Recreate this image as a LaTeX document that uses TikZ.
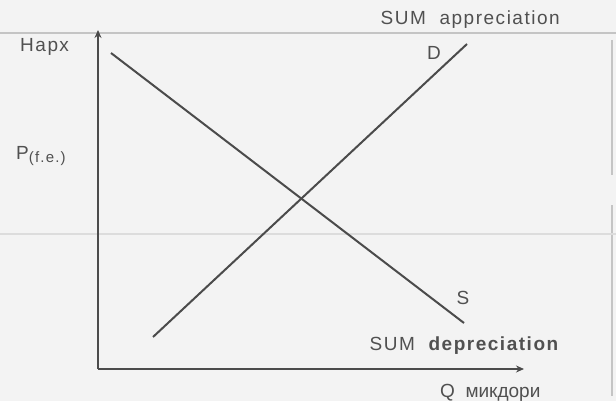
\documentclass[tikz,border=0pt]{standalone}
\usepackage{fontspec}
\setmainfont{Liberation Sans}[LetterSpace=8]
\newfontfamily\plainsans{Liberation Sans}
\usetikzlibrary{arrows.meta}
\definecolor{ink}{RGB}{75,75,75}
\definecolor{txt}{RGB}{80,80,80}
\definecolor{paper}{RGB}{243,243,243}
\definecolor{scan}{RGB}{196,196,196}
\begin{document}
\begin{tikzpicture}[x=1pt,y=-1pt,
  lbl/.style={text=txt, font=\fontsize{19}{21}\selectfont, inner sep=0pt},
  axisline/.style={draw=ink, line width=2.8pt, -{Stealth[length=8pt,width=7pt]}},
  curve/.style={draw=ink, line width=2pt},
  artifact/.style={draw=scan, line width=1.2pt}]
\fill[paper] (0,0) rectangle (616,401);
\useasboundingbox (0,0) rectangle (616,401);
% scan artefacts
\draw[artifact] (0,33) -- (616,33);
\draw[artifact, line width=1.6pt] (612,40) -- (612,175);
\draw[artifact, line width=1.6pt] (612,205) -- (612,396);
\draw[artifact, draw=scan!60] (0,234) -- (616,234);
% axes
\coordinate (o) at (98,369);
\coordinate (ytop) at (98,30);
\coordinate (xend) at (524,369);
\draw[axisline] (o) -- (ytop);
\draw[axisline] (o) -- (xend);
% curves
\coordinate (s1) at (111,53);
\coordinate (s2) at (464,323);
\coordinate (d1) at (153,337);
\coordinate (d2) at (467,44);
\draw[curve] (s1) -- (s2);
\draw[curve] (d1) -- (d2);
% labels
\node[lbl, anchor=base east] (appr) at (560,25) {SUM\ \ appreciation};
\node[lbl, anchor=base east] (depr) at (560,350) {SUM\ \ \textbf{depreciation}};
\node[lbl, anchor=base west] (narx) at (20,52) {Нарх};
\node[lbl, anchor=base west] (pfe) at (16,160) {P\raisebox{-3pt}{\fontsize{15}{16}\selectfont(f.e.)}};
\node[lbl] (dl) at (434,53) {D};
\node[lbl] (sl) at (463,298) {S};
\node[lbl, font=\plainsans\fontsize{19}{21}\selectfont, anchor=base west] (ql) at (440,397) {Q\ \ микдори};
\end{tikzpicture}
\end{document}
